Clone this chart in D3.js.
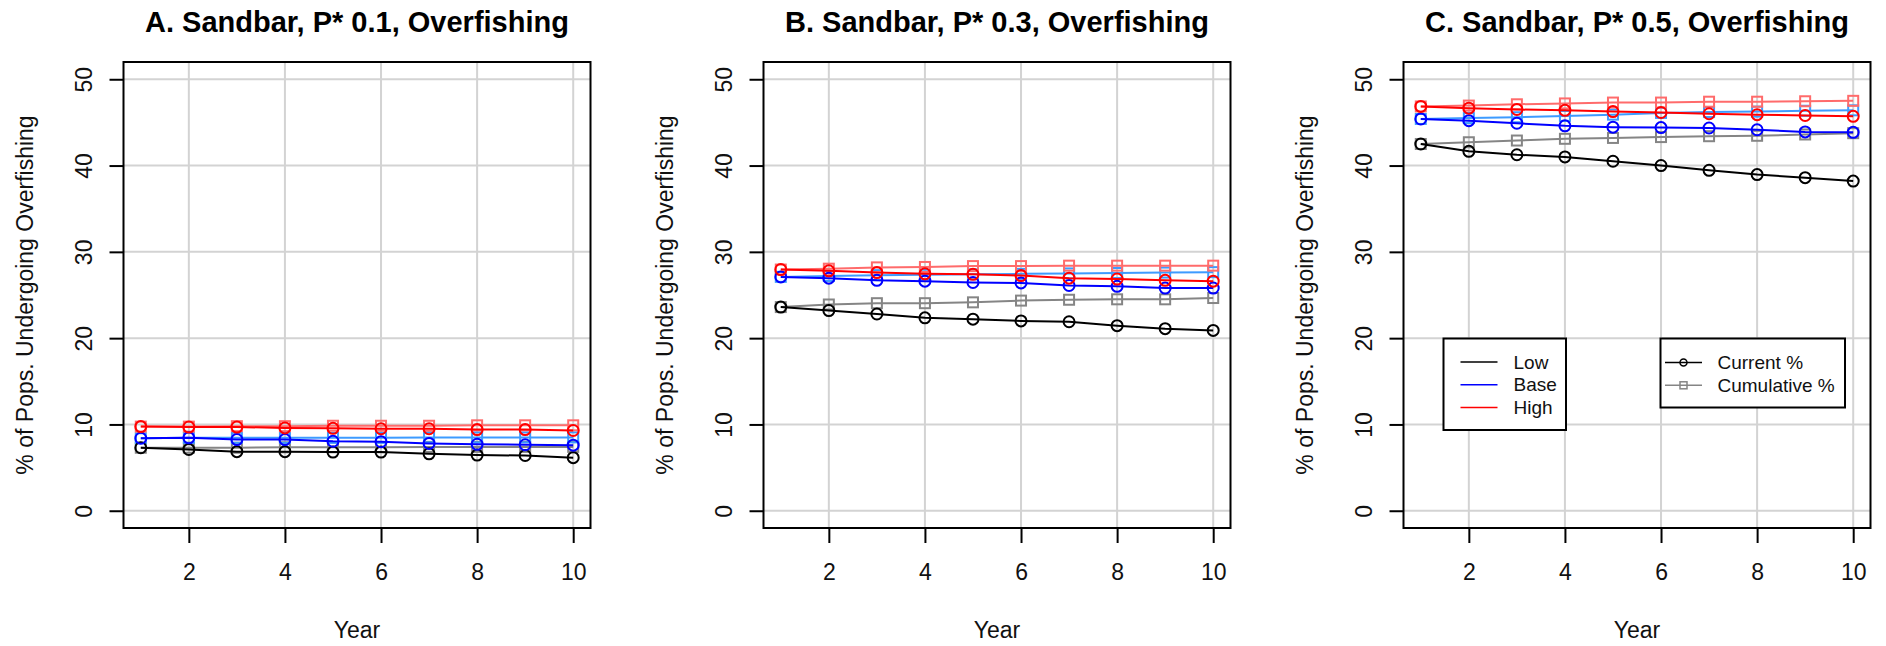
<!DOCTYPE html>
<html>
<head>
<meta charset="utf-8">
<script src="https://cdn.jsdelivr.net/npm/d3@7"></script>
<style>
  body { margin: 0; background: #fff; }
  svg text { font-family: "Liberation Sans", Arial, Helvetica, sans-serif; }
</style>
</head>
<body>
<div id="chart"></div>
<script>
// years + tick values
const years = [1, 2, 3, 4, 5, 6, 7, 8, 9, 10];
const xTicks = [2, 4, 6, 8, 10];
const yTicks = [0, 10, 20, 30, 40, 50];
const panelTitles = [
    "A. Sandbar, P* 0.1, Overfishing",
    "B. Sandbar, P* 0.3, Overfishing",
    "C. Sandbar, P* 0.5, Overfishing"
];

// Panel A (P* 0.1)
const aLowCur  = [7.3, 7.1, 6.85, 6.85, 6.8, 6.8, 6.6, 6.45, 6.4, 6.15];
const aLowCum  = [7.3, 7.3, 7.3, 7.35, 7.35, 7.35, 7.4, 7.4, 7.4, 7.4];
const aBaseCur = [8.4, 8.45, 8.25, 8.25, 8.05, 8.0, 7.8, 7.7, 7.65, 7.6];
const aBaseCum = [8.4, 8.45, 8.45, 8.45, 8.45, 8.45, 8.5, 8.5, 8.5, 8.5];
const aHighCur = [9.75, 9.7, 9.7, 9.6, 9.55, 9.5, 9.5, 9.4, 9.4, 9.3];
const aHighCum = [9.75, 9.75, 9.8, 9.8, 9.85, 9.85, 9.85, 9.9, 9.9, 9.9];

// Panel B (P* 0.3)
const bLowCur  = [23.6, 23.2, 22.8, 22.35, 22.2, 22.0, 21.9, 21.45, 21.1, 20.9];
const bLowCum  = [23.6, 23.9, 24.05, 24.05, 24.15, 24.35, 24.45, 24.5, 24.5, 24.65];
const bBaseCur = [27.1, 26.95, 26.7, 26.6, 26.45, 26.4, 26.1, 26.0, 25.8, 25.8];
const bBaseCum = [27.1, 27.2, 27.3, 27.35, 27.4, 27.45, 27.5, 27.55, 27.6, 27.65];
const bHighCur = [27.95, 27.8, 27.6, 27.45, 27.4, 27.25, 26.95, 26.85, 26.7, 26.6];
const bHighCum = [27.95, 28.05, 28.2, 28.25, 28.35, 28.35, 28.4, 28.4, 28.4, 28.4];

// Panel C (P* 0.5)
const cLowCur  = [42.5, 41.65, 41.25, 41.0, 40.5, 40.0, 39.45, 38.95, 38.6, 38.2];
const cLowCum  = [42.5, 42.7, 42.9, 43.1, 43.2, 43.3, 43.4, 43.45, 43.6, 43.75];
const cBaseCur = [45.4, 45.2, 44.9, 44.6, 44.45, 44.4, 44.35, 44.15, 43.9, 43.85];
const cBaseCum = [45.4, 45.5, 45.6, 45.75, 45.9, 46.1, 46.2, 46.25, 46.35, 46.4];
const cHighCur = [46.85, 46.65, 46.5, 46.4, 46.25, 46.15, 46.0, 45.9, 45.8, 45.7];
const cHighCum = [46.85, 46.95, 47.1, 47.2, 47.3, 47.3, 47.4, 47.4, 47.45, 47.5];

const scenarioNames = ["Low", "Base", "High"];
const typeNames = ["Current %", "Cumulative %"];

function drawChart() {
    d3.select("#chart").selectAll("*").remove();

    let width = 1886, height = 646;
    let boxW = 467, boxH = 466;
    let panelLeft = [123.5, 763.5, 1403.5];
    let boxTop = 62;

    let curColors = { Low: "#000000", Base: "#0000ff", High: "#ff0000" };
    let cumColors = { Low: "#858585", Base: "#3d9bff", High: "#ff6b6b" };

    let panels = [
        { Low: [aLowCur, aLowCum], Base: [aBaseCur, aBaseCum], High: [aHighCur, aHighCum] },
        { Low: [bLowCur, bLowCum], Base: [bBaseCur, bBaseCum], High: [bHighCur, bHighCum] },
        { Low: [cLowCur, cLowCum], Base: [cBaseCur, cBaseCum], High: [cHighCur, cHighCum] }
    ];

    let svg = d3.select("#chart")
        .append("svg")
        .attr("width", width)
        .attr("height", height)
        .style("background", "#fff");

    let x = d3.scaleLinear().domain([0.64, 10.36]).range([0, boxW]);
    let y = d3.scaleLinear().domain([-2, 52]).range([boxH, 0]);

    panels.forEach((p, i) => {
        let g = svg.append("g")
            .attr("transform", `translate(${panelLeft[i]},${boxTop})`);

        // grid
        g.selectAll(".vgrid").data(xTicks).enter().append("line")
            .attr("x1", d => x(d)).attr("x2", d => x(d))
            .attr("y1", 0).attr("y2", boxH)
            .attr("stroke", "#d3d3d3").attr("stroke-width", 2);
        g.selectAll(".hgrid").data(yTicks).enter().append("line")
            .attr("x1", 0).attr("x2", boxW)
            .attr("y1", d => y(d)).attr("y2", d => y(d))
            .attr("stroke", "#d3d3d3").attr("stroke-width", 2);

        let line = d3.line().x((d, k) => x(years[k])).y(d => y(d));

        // cumulative first, current on top
        [1, 0].forEach(t => {
            scenarioNames.forEach(s => {
                let vals = p[s][t];
                let col = t === 0 ? curColors[s] : cumColors[s];
                g.append("path")
                    .datum(vals)
                    .attr("d", line)
                    .attr("fill", "none")
                    .attr("stroke", col)
                    .attr("stroke-width", 2);
                if (t === 0) {
                    g.selectAll(null).data(vals).enter().append("circle")
                        .attr("cx", (d, k) => x(years[k]))
                        .attr("cy", d => y(d))
                        .attr("r", 5.5)
                        .attr("fill", "none")
                        .attr("stroke", col)
                        .attr("stroke-width", 2);
                } else {
                    g.selectAll(null).data(vals).enter().append("rect")
                        .attr("x", (d, k) => x(years[k]) - 5)
                        .attr("y", d => y(d) - 5)
                        .attr("width", 10).attr("height", 10)
                        .attr("fill", "none")
                        .attr("stroke", col)
                        .attr("stroke-width", 2);
                }
            });
        });

        // box
        g.append("rect")
            .attr("x", 0).attr("y", 0)
            .attr("width", boxW).attr("height", boxH)
            .attr("fill", "none").attr("stroke", "#000").attr("stroke-width", 2);

        // axes
        let xAxis = g.append("g")
            .attr("transform", `translate(0,${boxH})`)
            .call(d3.axisBottom(x).tickValues(xTicks).tickSize(15).tickFormat(d3.format("d")));
        xAxis.select(".domain").remove();
        xAxis.selectAll("line").attr("stroke-width", 2);
        xAxis.selectAll("text")
            .attr("y", 52).attr("dy", 0)
            .style("font-size", "23px").style("fill", "#111");

        let yAxis = g.append("g")
            .call(d3.axisLeft(y).tickValues(yTicks).tickSize(14));
        yAxis.select(".domain").remove();
        yAxis.selectAll("line").attr("stroke-width", 2);
        yAxis.selectAll("text")
            .attr("transform", "rotate(-90)")
            .attr("x", 0).attr("y", -32).attr("dy", 0)
            .attr("text-anchor", "middle")
            .style("font-size", "23px").style("fill", "#111");

        // title + labels
        g.append("text")
            .attr("x", boxW / 2).attr("y", 32 - boxTop)
            .attr("text-anchor", "middle")
            .style("font-size", "29px").style("font-weight", "bold")
            .text(panelTitles[i]);

        g.append("text")
            .attr("x", boxW / 2).attr("y", boxH + 110)
            .attr("text-anchor", "middle")
            .style("font-size", "23px").style("fill", "#111")
            .text("Year");

        g.append("text")
            .attr("transform", `translate(-91,${boxH / 2}) rotate(-90)`)
            .attr("text-anchor", "middle")
            .style("font-size", "23px").style("fill", "#111")
            .text("% of Pops. Undergoing Overfishing");

        // legends only on the last panel
        if (i === 2) {
            let lg = g.append("g");
            lg.append("rect")
                .attr("x", 40).attr("y", 276.5).attr("width", 122.5).attr("height", 91.5)
                .attr("fill", "#fff").attr("stroke", "#000").attr("stroke-width", 2);
            scenarioNames.forEach((s, k) => {
                let yy = 300 + k * 22.8;
                lg.append("line")
                    .attr("x1", 57).attr("x2", 94).attr("y1", yy).attr("y2", yy)
                    .attr("stroke", curColors[s]).attr("stroke-width", 1.5);
                lg.append("text")
                    .attr("x", 110).attr("y", yy).attr("dy", "0.35em")
                    .style("font-size", "19px").style("fill", "#111")
                    .text(s);
            });

            lg.append("rect")
                .attr("x", 257).attr("y", 276.5).attr("width", 184.5).attr("height", 69)
                .attr("fill", "#fff").attr("stroke", "#000").attr("stroke-width", 2);
            typeNames.forEach((t, k) => {
                let yy = 300.5 + k * 22.8;
                let col = k === 0 ? "#000" : "#858585";
                lg.append("line")
                    .attr("x1", 261.5).attr("x2", 298.5).attr("y1", yy).attr("y2", yy)
                    .attr("stroke", col).attr("stroke-width", 1.5);
                if (k === 0) {
                    lg.append("circle")
                        .attr("cx", 280).attr("cy", yy).attr("r", 3.5)
                        .attr("fill", "none").attr("stroke", col).attr("stroke-width", 1.5);
                } else {
                    lg.append("rect")
                        .attr("x", 276.5).attr("y", yy - 3.5).attr("width", 7).attr("height", 7)
                        .attr("fill", "none").attr("stroke", col).attr("stroke-width", 1.5);
                }
                lg.append("text")
                    .attr("x", 314).attr("y", yy).attr("dy", "0.35em")
                    .style("font-size", "19px").style("fill", "#111")
                    .text(t);
            });
        }
    });
}

drawChart();
</script>
</body>
</html>
